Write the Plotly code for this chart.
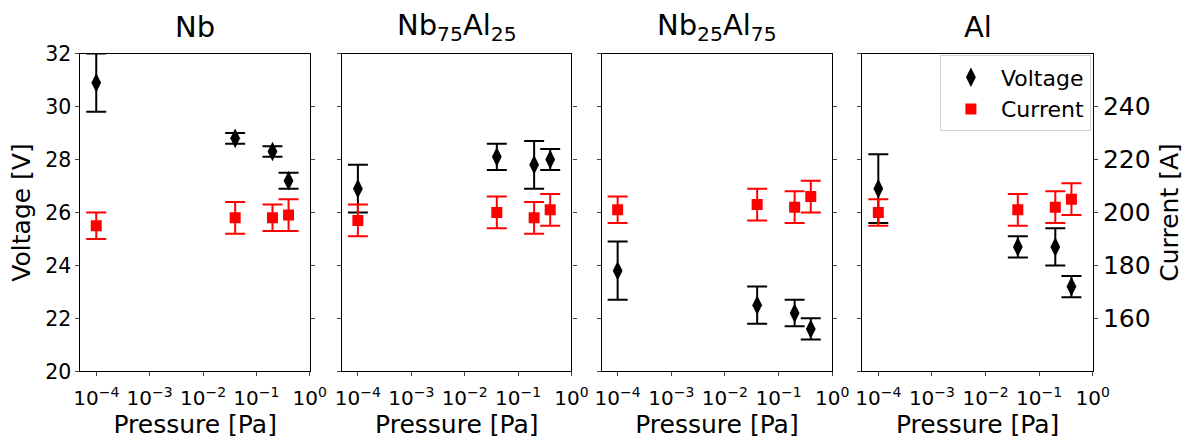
import plotly.graph_objects as go

W, H = 1197, 441

pressure = [1e-4, 0.04, 0.2, 0.4]
titles = ["Nb", "Nb<sub>75</sub>Al<sub>25</sub>", "Nb<sub>25</sub>Al<sub>75</sub>", "Al"]

voltage = [
    [30.9, 28.8, 28.3, 27.2],
    [26.9, 28.1, 27.8, 28.0],
    [23.8, 22.5, 22.2, 21.6],
    [26.9, 24.7, 24.7, 23.2],
]
voltage_err = [
    [1.1, 0.2, 0.2, 0.3],
    [0.9, 0.5, 0.9, 0.4],
    [1.1, 0.7, 0.5, 0.4],
    [1.3, 0.4, 0.7, 0.4],
]
current = [
    [195, 198, 198, 199],
    [197, 200, 198, 201],
    [201, 203, 202, 206],
    [200, 201, 202, 205],
]
current_err = [
    [5, 6, 5, 6],
    [6, 6, 6, 6],
    [5, 6, 6, 6],
    [5, 6, 6, 6],
]

volt_ticks = [20, 22, 24, 26, 28, 30, 32]
curr_ticks = [160, 180, 200, 220, 240]
x_ticks = [1e-4, 1e-3, 1e-2, 1e-1, 1]
x_ticktext = ["10<sup>−4</sup>", "10<sup>−3</sup>", "10<sup>−2</sup>", "10<sup>−1</sup>", "10<sup>0</sup>"]

FONT = "DejaVu Sans"
panels_px = [(75, 309), (342, 576), (607, 842), (873, 1108)]
y0 = 1 - 380 / H
y1 = 1 - 44 / H

fig = go.Figure()
layout = dict(
    width=W, height=H, margin=dict(l=0, r=0, t=0, b=0),
    paper_bgcolor="white", plot_bgcolor="white",
    font=dict(family=FONT, color="black", size=20),
    showlegend=True,
    legend=dict(x=952 / W, y=1 - 46 / H, xanchor="left", yanchor="top",
                bgcolor="white", bordercolor="#d0d0d0", borderwidth=1,
                font=dict(size=22, family=FONT), itemwidth=50,
                tracegroupgap=0),
)
annotations = []
for i in range(4):
    xa = f"xaxis{'' if i == 0 else i + 1}"
    lid = 2 * i + 1
    rid = 2 * i + 2
    ly = f"yaxis{'' if lid == 1 else lid}"
    ry = f"yaxis{rid}"
    xref = f"x{'' if i == 0 else i + 1}"
    lref = f"y{'' if lid == 1 else lid}"
    rref = f"y{rid}"
    d0, d1 = panels_px[i][0] / W, panels_px[i][1] / W
    layout[xa] = dict(
        domain=[d0, d1], type="log", range=[-4.295, 0], anchor=lref,
        tickvals=x_ticks, ticktext=x_ticktext, ticks="outside", ticklen=4,
        tickwidth=1.2, showline=True, linewidth=1.3, linecolor="black",
        mirror=True, showgrid=False, zeroline=False,
        tickfont=dict(size=20), ticklabelstandoff=5,
        title=dict(text="Pressure [Pa]", font=dict(size=25), standoff=2),
    )
    layout[ly] = dict(
        domain=[y0, y1], range=[20, 32], anchor=xref, side="left",
        tickvals=volt_ticks, ticks="outside", ticklen=4, tickwidth=1.2,
        showticklabels=(i == 0), showline=True, linewidth=1.3, linecolor="black",
        showgrid=False, zeroline=False, tickfont=dict(size=20.5),
    )
    if i == 0:
        layout[ly]["title"] = dict(text="Voltage [V]", font=dict(size=25), standoff=7)
    layout[ry] = dict(
        range=[140, 260], overlaying=lref, anchor=xref, side="right",
        tickvals=curr_ticks, ticks="outside", ticklen=4, tickwidth=1.2,
        showticklabels=(i == 3), showline=True, linewidth=1.3, linecolor="black",
        showgrid=False, zeroline=False, tickfont=dict(size=25),
    )
    if i == 3:
        layout[ry]["title"] = dict(text="Current [A]", font=dict(size=25), standoff=10)

    fig.add_trace(go.Scatter(
        x=pressure, y=voltage[i], xaxis=xref, yaxis=lref, mode="markers",
        name="Voltage", showlegend=(i == 3), legendrank=1,
        marker=dict(symbol="diamond-tall", size=14, color="black"),
        error_y=dict(type="data", array=voltage_err[i], color="black",
                     thickness=2, width=10),
    ))
    fig.add_trace(go.Scatter(
        x=pressure, y=current[i], xaxis=xref, yaxis=rref, mode="markers",
        name="Current", showlegend=(i == 3), legendrank=2,
        marker=dict(symbol="square", size=11, color="red"),
        error_y=dict(type="data", array=current_err[i], color="red",
                     thickness=2, width=10),
    ))
    annotations.append(dict(
        text=titles[i], x=(d0 + d1) / 2, y=1 - 16 / H, xref="paper", yref="paper",
        showarrow=False, font=dict(size=29, family=FONT), xanchor="center", yanchor="middle",
    ))

layout["annotations"] = annotations
fig.update_layout(**layout)
fig.write_html("out.html")
